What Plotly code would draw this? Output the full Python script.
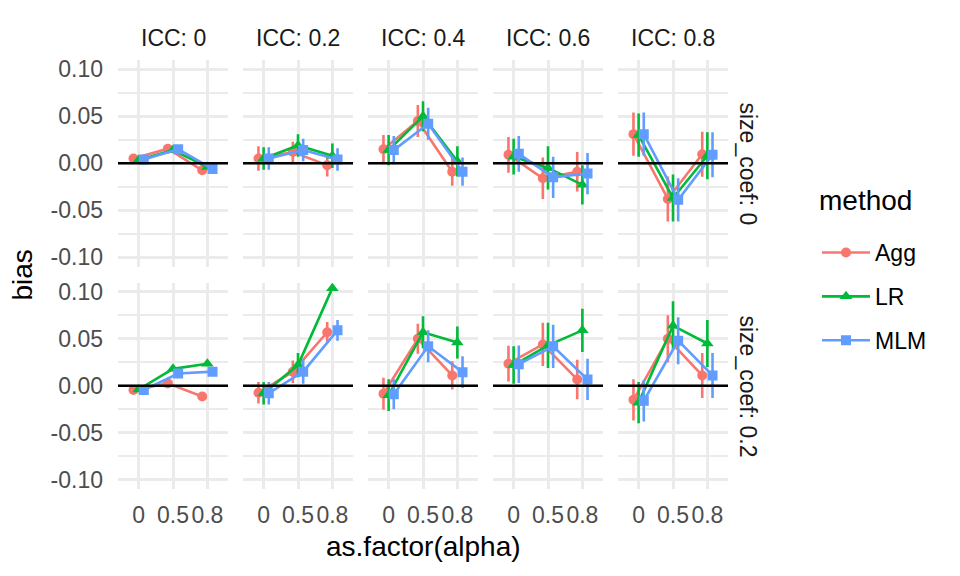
import plotly.graph_objects as go
from plotly.subplots import make_subplots

# facet labels
icc_labels = ["ICC: 0", "ICC: 0.2", "ICC: 0.4", "ICC: 0.6", "ICC: 0.8"]
size_labels = ["size_coef: 0", "size_coef: 0.2"]
alpha_labels = ["0", "0.5", "0.8"]
methods = ["Agg", "LR", "MLM"]

# bias per ICC panel (alpha 0, 0.5, 0.8) -- size_coef 0
agg_s0 = [[0.005, 0.0155, -0.0075], [0.005, 0.012, -0.002], [0.015, 0.045, -0.009],
          [0.009, -0.016, -0.009], [0.031, -0.038, 0.0095]]
lr_s0 = [[0.0035, 0.014, -0.004], [0.005, 0.019, 0.008], [0.014, 0.050, 0.002],
         [0.007, -0.005, -0.023], [0.030, -0.037, 0.008]]
mlm_s0 = [[0.004, 0.015, -0.006], [0.005, 0.014, 0.004], [0.014, 0.042, -0.009],
          [0.010, -0.015, -0.011], [0.031, -0.039, 0.009]]
# half width of the error bars -- size_coef 0
agg_s0_err = [[0.002, 0.002, 0.002], [0.013, 0.011, 0.012], [0.015, 0.017, 0.015],
              [0.019, 0.022, 0.021], [0.023, 0.024, 0.024]]
lr_s0_err = [[0.002, 0.002, 0.002], [0.012, 0.012, 0.013], [0.016, 0.016, 0.016],
             [0.019, 0.023, 0.021], [0.023, 0.025, 0.025]]
mlm_s0_err = [[0.002, 0.002, 0.002], [0.012, 0.012, 0.012], [0.015, 0.017, 0.015],
              [0.019, 0.022, 0.022], [0.023, 0.023, 0.024]]

# size_coef 0.2
agg_s2 = [[-0.0045, 0.0025, -0.0115], [-0.0075, 0.015, 0.057], [-0.0085, 0.050, 0.011],
          [0.0235, 0.044, 0.0067], [-0.015, 0.050, 0.011]]
lr_s2 = [[-0.004, 0.018, 0.0235], [-0.008, 0.022, 0.104], [-0.010, 0.057, 0.046],
         [0.022, 0.043, 0.059], [-0.018, 0.064, 0.045]]
mlm_s2 = [[-0.0045, 0.013, 0.015], [-0.008, 0.015, 0.059], [-0.009, 0.042, 0.0145],
          [0.023, 0.042, 0.0067], [-0.016, 0.048, 0.011]]
agg_s2_err = [[0.002, 0.002, 0.002], [0.0115, 0.012, 0.011], [0.017, 0.016, 0.015],
              [0.019, 0.023, 0.021], [0.022, 0.025, 0.024]]
lr_s2_err = [[0.002, 0.002, 0.002], [0.012, 0.013, None], [0.017, 0.017, 0.017],
             [0.020, 0.024, 0.023], [0.022, 0.026, 0.025]]
mlm_s2_err = [[0.002, 0.002, 0.002], [0.012, 0.013, 0.011], [0.016, 0.017, 0.017],
              [0.020, 0.023, 0.022], [0.022, 0.025, 0.024]]

bias = {"Agg": [agg_s0, agg_s2], "LR": [lr_s0, lr_s2], "MLM": [mlm_s0, mlm_s2]}
errs = {"Agg": [agg_s0_err, agg_s2_err], "LR": [lr_s0_err, lr_s2_err], "MLM": [mlm_s0_err, mlm_s2_err]}

colors = {"Agg": "#F8766D", "LR": "#00BA38", "MLM": "#619CFF"}
symbols = {"Agg": "circle", "LR": "triangle-up", "MLM": "square"}
msize = {"Agg": 10, "LR": 11, "MLM": 10}
dodge = {"Agg": -0.15, "LR": 0.0, "MLM": 0.15}

FONT = "Liberation Sans"
W, H = 960, 576
L, R, T, B = 118, 232, 60, 87
pw, ph = W - L - R, H - T - B

fig = make_subplots(rows=2, cols=5, horizontal_spacing=15 / pw, vertical_spacing=16 / ph)

for r in range(2):
    for c in range(5):
        for m in methods:
            fig.add_trace(go.Scatter(
                x=[i + 1 + dodge[m] for i in range(3)],
                y=bias[m][r][c],
                error_y=dict(type="data", array=errs[m][r][c], width=0, thickness=2.6, color=colors[m]),
                mode="lines+markers",
                line=dict(color=colors[m], width=2.6),
                marker=dict(symbol=symbols[m], size=msize[m], color=colors[m]),
                name=m, legendgroup=m, showlegend=(r == 0 and c == 0),
            ), row=r + 1, col=c + 1)
        fig.add_hline(y=0, line=dict(color="black", width=2.5), row=r + 1, col=c + 1)

fig.update_xaxes(range=[0.4, 3.6], tickvals=[1, 2, 3], ticktext=alpha_labels, tickangle=0,
                 showgrid=True, gridcolor="#EBEBEB", gridwidth=2.5, zeroline=False,
                 showline=False, ticks="", ticklabelstandoff=10,
                 tickfont=dict(family=FONT, size=23, color="#4D4D4D"))
fig.update_xaxes(showticklabels=False, row=1)
fig.update_yaxes(range=[-0.11, 0.11], tickvals=[-0.10, -0.05, 0.0, 0.05, 0.10],
                 ticktext=["-0.10", "-0.05", "0.00", "0.05", "0.10"],
                 showgrid=True, gridcolor="#EBEBEB", gridwidth=2.5, zeroline=False,
                 minor=dict(tickvals=[-0.075, -0.025, 0.025, 0.075], showgrid=True,
                            gridcolor="#EBEBEB", gridwidth=2.0),
                 showline=False, ticks="", ticklabelstandoff=14,
                 tickfont=dict(family=FONT, size=23, color="#4D4D4D"))
for c in range(2, 6):
    fig.update_yaxes(showticklabels=False, col=c)

# strip labels
for c, lab in enumerate(icc_labels):
    xc = (c * 125 + 55) / pw
    fig.add_annotation(x=xc, y=1 + 22 / ph, xref="paper", yref="paper", text=lab,
                       xanchor="center", yanchor="middle", showarrow=False,
                       font=dict(family=FONT, size=23, color="#1A1A1A"))
for r, lab in enumerate(size_labels):
    yc = 1 - (r * 223 + 103.5) / ph
    fig.add_annotation(x=1 + 20 / pw, y=yc, xref="paper", yref="paper", text=lab,
                       textangle=90, xanchor="center", yanchor="middle", showarrow=False,
                       font=dict(family=FONT, size=23, color="#1A1A1A"))

# axis titles and legend title
fig.add_annotation(x=0.5, y=-57 / ph, xref="paper", yref="paper", text="as.factor(alpha)",
                   xanchor="center", yanchor="middle", showarrow=False,
                   font=dict(family=FONT, size=28, color="black"))
fig.add_annotation(x=-96 / pw, y=0.5, xref="paper", yref="paper", text="bias", textangle=-90,
                   xanchor="center", yanchor="middle", showarrow=False,
                   font=dict(family=FONT, size=28, color="black"))
fig.add_annotation(x=(817 - L) / pw, y=1 - (200 - T) / ph, xref="paper", yref="paper",
                   text="method", xanchor="left", yanchor="middle", showarrow=False,
                   font=dict(family=FONT, size=28, color="black"))

fig.update_layout(
    width=W, height=H, margin=dict(l=L, r=R, t=T, b=B, autoexpand=False),
    plot_bgcolor="white", paper_bgcolor="white",
    legend=dict(font=dict(family=FONT, size=23, color="black"),
                x=(817 - L) / pw, y=1 - (231 - T) / ph, xanchor="left", yanchor="top",
                itemwidth=48, tracegroupgap=11, traceorder="grouped"),
)

fig.write_html("out.html", config={"displayModeBar": False},
               post_script="document.body.style.margin='0';")
